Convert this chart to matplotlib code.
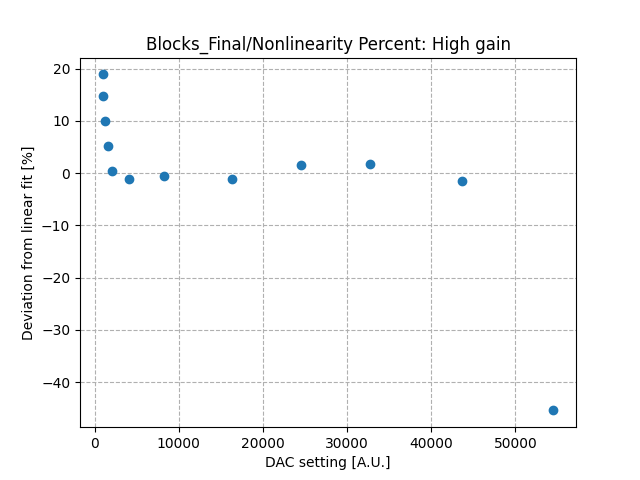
import matplotlib
matplotlib.use("Agg")
import matplotlib.pyplot as plt

dac_setting = [950, 1050, 1300, 1650, 2030, 4050, 8200, 16390, 24530, 32740, 43660, 54530]
deviation = [18.9, 14.7, 9.9, 5.2, 0.4, -1.2, -0.6, -1.2, 1.5, 1.8, -1.5, -45.4]

fig, ax = plt.subplots(figsize=(6.4, 4.8), dpi=100)
ax.plot(dac_setting, deviation, 'o', color='#1f77b4')
ax.grid(True, linestyle='--')
ax.set_title("Blocks_Final/Nonlinearity Percent: High gain")
ax.set_xlabel("DAC setting [A.U.]")
ax.set_ylabel("Deviation from linear fit [%]")
fig.savefig("out.png", dpi=100)
